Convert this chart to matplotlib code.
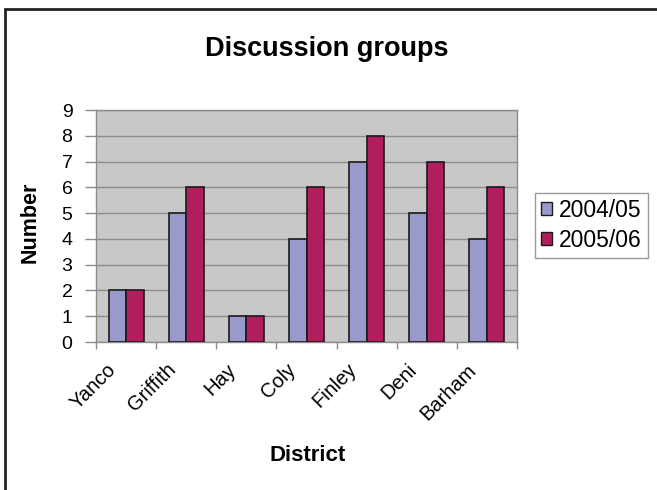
import numpy as np
import matplotlib
matplotlib.use('Agg')
import matplotlib.pyplot as plt
from matplotlib.patches import Patch, Rectangle
from matplotlib.transforms import ScaledTranslation

plt.rcParams['font.family'] = ['Liberation Sans', 'DejaVu Sans']

districts = ['Yanco', 'Griffith', 'Hay', 'Coly', 'Finley', 'Deni', 'Barham']
groups_0405 = [2, 5, 1, 4, 7, 5, 4]
groups_0506 = [2, 6, 1, 6, 8, 7, 6]
series_names = ['2004/05', '2005/06']
yticks = list(range(0, 10))

c_0405 = '#9999CC'
c_0506 = '#B01E5E'
grid_c = '#8C8C8C'

fig = plt.figure(figsize=(6.57, 4.9), dpi=100)
ax = fig.add_axes([96/657, 1 - 342/490, 421/657, 232/490])
ax.set_facecolor('#C8C8C8')

x = np.arange(len(districts))
w = 0.29
ax.bar(x - w/2, groups_0405, w, color=c_0405, edgecolor='#1a1a1a', lw=1.2, zorder=3)
ax.bar(x + w/2, groups_0506, w, color=c_0506, edgecolor='#1a1a1a', lw=1.2, zorder=3)

ax.set_xlim(-0.5, len(districts) - 0.5)
ax.set_ylim(0, 9)
ax.set_yticks(yticks)
ax.yaxis.grid(True, color=grid_c, lw=1, zorder=0)
ax.set_axisbelow(True)
for s in ax.spines.values():
    s.set_color(grid_c)
    s.set_linewidth(1)

ax.tick_params(axis='y', length=8, width=1, color=grid_c, labelsize=14, pad=9)
ax.set_xticks(x)
ax.set_xticklabels(districts, rotation=45, ha='right', va='top',
                   rotation_mode='anchor', fontsize=14.5)
ax.tick_params(axis='x', which='major', length=0, pad=13)
ax.set_xticks(np.arange(-0.5, len(districts)), minor=True)
ax.tick_params(axis='x', which='minor', length=5, width=1, color=grid_c)
shift = ScaledTranslation(-0.2, 0, fig.dpi_scale_trans)
for lab in ax.get_xticklabels():
    lab.set_transform(lab.get_transform() + shift)

fig.text(327/657, 1 - 49/490, 'Discussion groups', ha='center', va='center',
         fontsize=19.5, fontweight='bold')
fig.text(307.5/657, 1 - 455/490, 'District', ha='center', va='center',
         fontsize=16, fontweight='bold')
fig.text(30.5/657, 1 - 222.5/490, 'Number', ha='center', va='center',
         rotation=90, fontsize=15.5, fontweight='bold')

handles = [Patch(facecolor=c_0405, edgecolor='#1a1a1a', lw=1),
           Patch(facecolor=c_0506, edgecolor='#1a1a1a', lw=1)]
leg = fig.legend(handles, series_names, loc='center left',
                 bbox_to_anchor=(535/657, 1 - 225.5/490), fontsize=16.5,
                 fancybox=False, framealpha=1, edgecolor='#999999',
                 handlelength=0.5, handleheight=0.5, handletextpad=0.3,
                 borderpad=0.25, labelspacing=0.3, borderaxespad=0)
leg.get_frame().set_linewidth(1)

# outer chart frame
fig.patches.append(Rectangle((5/657, -0.1), 1.2, 1 - 9/490 + 0.1,
                             transform=fig.transFigure, fill=False,
                             edgecolor='#222222', lw=2))

fig.savefig('out.png', dpi=100)
